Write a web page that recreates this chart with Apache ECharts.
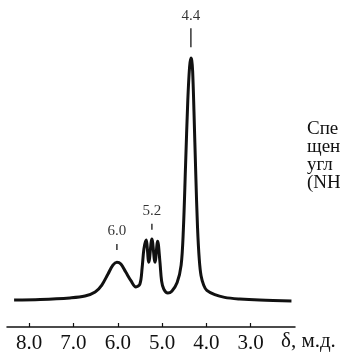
<!DOCTYPE html>
<html>
<head>
<meta charset="utf-8">
<script src="https://cdn.jsdelivr.net/npm/echarts@6/dist/echarts.min.js"></script>
<style>
html,body{margin:0;padding:0;background:#fff;}
#chart{width:340px;height:354px;}
</style>
</head>
<body>
<div id="chart"></div>
<script>
// Chemical shift (ppm) and relative intensity
const shiftPpm = [8.34, 7.75, 7.08, 6.74, 6.51, 6.36, 6.22, 6.11, 6.02, 5.93, 5.82, 5.70, 5.59, 5.50, 5.45, 5.41, 5.36, 5.30, 5.23, 5.16, 5.10, 5.05, 5.01, 4.96, 4.87, 4.78, 4.66, 4.57, 4.52, 4.47, 4.42, 4.38, 4.35, 4.33, 4.31, 4.28, 4.24, 4.20, 4.16, 4.12, 4.06, 3.99, 3.81, 3.59, 3.25, 2.80, 2.08];
const intensity = [10.0, 10.2, 10.8, 11.5, 13.0, 15.6, 19.7, 23.0, 24.1, 23.4, 20.4, 17.1, 14.9, 16.0, 22.0, 29.0, 32.3, 24.1, 32.7, 24.1, 31.9, 24.5, 17.0, 14.0, 12.6, 13.3, 16.5, 23.0, 36.0, 60.0, 84.0, 96.5, 99.9, 99.0, 95.0, 80.0, 57.0, 37.0, 25.0, 19.0, 15.5, 13.6, 12.0, 11.0, 10.4, 10.0, 9.7];

// Axis ticks
const tickValues = [3.0, 4.0, 5.0, 6.0, 7.0, 8.0];
const axisTitle = 'δ, м.д.';

// Peak annotations
const peakLabels = ['6.0', '5.2', '4.4'];
const peakShift = [6.02, 5.23, 4.35];
const peakMarkLevel = [29.7, 37.2, 107.5];
const peakMarkLength = [6, 6, 19];

// Caption fragment (cut off at the right edge)
const captionLines = ['Спе', 'щен', 'угл', '(NH'];

const chart = echarts.init(document.getElementById('chart'), null, {renderer: 'canvas'});
const serif = '"Liberation Serif", "DejaVu Serif", serif';

const option = {
  animation: false,
  backgroundColor: '#ffffff',
  grid: {left: 7, right: 45, top: 4, bottom: 27, containLabel: false},
  xAxis: {
    type: 'value',
    min: 2.0,
    max: 8.5,
    inverse: true,
    splitLine: {show: false},
    axisLine: {show: true, onZero: false, lineStyle: {color: '#111', width: 1.5}},
    axisTick: {show: true, inside: true, length: 4, customValues: tickValues, lineStyle: {color: '#111', width: 1.2}},
    axisLabel: {
      show: true, customValues: tickValues, margin: 6,
      formatter: v => v.toFixed(1),
      color: '#111', fontFamily: serif, fontSize: 21
    }
  },
  yAxis: {
    type: 'value', min: 0, max: 120, show: false
  },
  graphic: [
    {type: 'text', left: 281, top: 331, style: {text: axisTitle, fill: '#111', font: '21px ' + serif}}
  ].concat(captionLines.map((t, i) => ({
    type: 'text', left: 307, top: 120 + i * 17.8,
    style: {text: t, fill: '#111', font: '19px ' + serif}
  }))),
  series: [
    {
      type: 'line',
      data: shiftPpm.map((x, i) => [x, intensity[i]]),
      smooth: 0.35,
      showSymbol: false,
      lineStyle: {color: '#111', width: 3},
      clip: false
    },
    {
      type: 'scatter',
      clip: false,
      data: peakShift.map((x, i) => ({
        value: [x, peakMarkLevel[i]],
        symbolSize: [1.6, peakMarkLength[i]],
        label: {formatter: peakLabels[i]}
      })),
      symbol: 'rect',
      itemStyle: {color: '#111'},
      label: {
        show: true, position: 'top', distance: 5,
        color: '#000', fontFamily: serif, fontSize: 15
      }
    }
  ]
};
chart.setOption(option);
</script>
</body>
</html>
